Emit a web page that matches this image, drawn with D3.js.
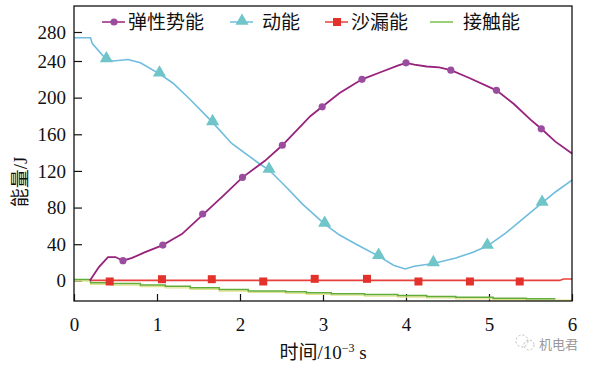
<!doctype html>
<html>
<meta charset="utf-8">
<style>
    body { margin: 0; background: #fff; }
    .serif { font-family: "Liberation Serif", "DejaVu Serif", serif; fill: #111; }
    .cn { font-family: "Noto Sans CJK SC", sans-serif; fill: #111; }
</style>
<head>
    <title>能量曲线</title>
    <script src="https://cdn.jsdelivr.net/npm/d3@7/dist/d3.min.js"></script>
</head>
<body>
<svg id="chart" width="594" height="366"></svg>
<script>
// time in 10^-3 s, energy in J
var elasticLine = [[0.19,0],[0.3,15],[0.41,26],[0.5,26],[0.59,22],[0.7,25],[0.85,31],[1.07,39],[1.2,46],[1.3,51],
    [1.55,72],[1.8,93],[2.03,113],[2.3,131],[2.51,148],[2.7,166],[2.85,180],[2.99,190],[3.2,205],[3.47,220],
    [3.7,228],[3.9,235],[4.0,238],[4.1,236],[4.25,234],[4.4,233],[4.54,230],[4.75,222],[5.09,208],[5.3,193],
    [5.5,176],[5.63,166],[5.8,152],[6.0,139]];
var elasticMarks = [[0.59,22],[1.07,39],[1.55,73],[2.03,113],[2.51,148],[2.99,190],[3.47,220],[4.0,238],[4.54,230],[5.09,208],[5.63,166]];

var kineticLine = [[0,272],[0.2,272],[0.22,264],[0.39,242],[0.47,240],[0.65,242],[0.8,238],[1.03,226],[1.19,216],
    [1.4,198],[1.67,173],[1.9,150],[2.2,130],[2.35,121],[2.55,103],[2.75,84],[3.02,62],[3.2,50],[3.4,40],[3.67,27],
    [3.85,17],[3.99,13],[4.1,16],[4.33,19],[4.6,25],[4.8,31],[4.98,38],[5.2,52],[5.4,67],[5.64,85],[5.8,97],[6.0,110]];
var kineticMarks = [[0.39,242],[1.03,226],[1.67,173],[2.35,121],[3.02,62],[3.67,27],[4.33,19],[4.98,38],[5.64,85]];

var hourglassLine = [[0.2,0.5],[5.85,0.5],[5.9,2],[6.0,2]];
var hourglassMarks = [[0.43,-0.7],[1.06,1.8],[1.66,1.8],[2.28,-0.7],[2.9,2.2],[3.53,2.2],[4.15,-0.7],[4.77,-0.7],[5.37,-0.7]];

var contactLine = [[0,1.5],[0.2,-2],[0.45,-3],[0.8,-4.5],[1.1,-6],[1.4,-7.5],[1.75,-9.5],[2.1,-11],[2.55,-12],
    [2.8,-13],[3.1,-14],[3.5,-15],[3.9,-16],[4.25,-17],[4.6,-18],[5.05,-19],[5.45,-19.5],[5.8,-19.5]];

var xTicks = [0, 1, 2, 3, 4, 5, 6];
var yTicks = [0, 40, 80, 120, 160, 200, 240, 280];
var seriesNames = ["弹性势能", "动能", "沙漏能", "接触能"];

var svg = d3.select("#chart");
var plotL = 74, plotR = 572, plotT = 6, plotB = 301;

var x = d3.scaleLinear().domain([0, 6]).range([plotL, plotR]);
// the printed axis is a bit compressed above 240
var y = d3.scaleLinear().domain([-22, 240, 280]).range([plotB, 61, 32]);

var line = d3.line().x(function (d) { return x(d[0]); }).y(function (d) { return y(d[1]); });
var stepLine = d3.line().curve(d3.curveStepAfter).x(function (d) { return x(d[0]); }).y(function (d) { return y(d[1]); });

// axes
var gx = svg.append("g").attr("transform", "translate(0," + plotB + ")")
    .call(d3.axisBottom(x).tickValues(xTicks).tickSize(-7).tickPadding(17).tickFormat(d3.format("d")));
var gy = svg.append("g").attr("transform", "translate(" + plotL + ",0)")
    .call(d3.axisLeft(y).tickValues(yTicks).tickSize(-8).tickPadding(8));
[gx, gy].forEach(function (g) {
    g.attr("font-family", null).attr("font-size", null);
    g.select(".domain").remove();
    g.selectAll(".tick line").attr("stroke", "#111").attr("stroke-width", 1.2);
    g.selectAll(".tick text").attr("class", "serif").style("font-size", "19px");
});

// contact energy (stepped)
svg.append("path").attr("fill", "none").attr("stroke", "#dfe48c").attr("stroke-width", 1.4)
    .attr("transform", "translate(0,1.5)")
    .attr("d", stepLine(contactLine.concat([[6.0,-19.5]])));
svg.append("path").attr("fill", "none").attr("stroke", "#62ad3a").attr("stroke-width", 1.5)
    .attr("d", stepLine(contactLine));

// hourglass energy
svg.append("path").attr("fill", "none").attr("stroke", "#e8413b").attr("stroke-width", 1.6)
    .attr("d", line(hourglassLine));
svg.selectAll(".hg").data(hourglassMarks).enter().append("rect")
    .attr("x", function (d) { return x(d[0]) - 4; }).attr("y", function (d) { return y(d[1]) - 4; })
    .attr("width", 8).attr("height", 8).attr("fill", "#e2322b");

// kinetic energy
svg.append("path").attr("fill", "none").attr("stroke", "#6fbcdf").attr("stroke-width", 1.6)
    .attr("d", line(kineticLine));
svg.selectAll(".ke").data(kineticMarks).enter().append("path")
    .attr("transform", function (d) { return "translate(" + x(d[0]) + "," + (y(d[1]) - 1) + ")"; })
    .attr("d", d3.symbol().type(d3.symbolTriangle).size(75)).attr("fill", "#6fc5c8");

// elastic potential energy
svg.append("path").attr("fill", "none").attr("stroke", "#97237d").attr("stroke-width", 1.8)
    .attr("d", line(elasticLine));
svg.selectAll(".ep").data(elasticMarks).enter().append("circle")
    .attr("cx", function (d) { return x(d[0]); }).attr("cy", function (d) { return y(d[1]); })
    .attr("r", 3.6).attr("fill", "#9a4c9f");

// frame
svg.append("rect").attr("x", plotL).attr("y", plotT).attr("width", plotR - plotL).attr("height", plotB - plotT)
    .attr("fill", "none").attr("stroke", "#111").attr("stroke-width", 1.3);

// legend
var legX = [102, 230, 325, 430];
var legColors = ["#97237d", "#6fbcdf", "#e8413b", "#7cc04a"];
var legY = 22;
seriesNames.forEach(function (name, i) {
    svg.append("line").attr("x1", legX[i]).attr("x2", legX[i] + 23).attr("y1", legY).attr("y2", legY)
        .attr("stroke", legColors[i]).attr("stroke-width", 1.5);
    var cx = legX[i] + 12;
    if (i === 0) svg.append("circle").attr("cx", cx).attr("cy", legY).attr("r", 3.6).attr("fill", "#9a4c9f");
    if (i === 1) svg.append("path").attr("transform", "translate(" + cx + "," + (legY - 1) + ")")
        .attr("d", d3.symbol().type(d3.symbolTriangle).size(75)).attr("fill", "#6fc5c8");
    if (i === 2) svg.append("rect").attr("x", cx - 4).attr("y", legY - 4).attr("width", 8).attr("height", 8).attr("fill", "#e2322b");
    svg.append("text").attr("class", "cn").attr("x", legX[i] + (i === 3 ? 33 : (i === 1 ? 32 : 26))).attr("y", legY + 7)
        .style("font-size", "19px").text(name);
});

// axis titles
var xt = svg.append("text").attr("class", "serif").attr("x", (plotL + plotR) / 2).attr("y", 359)
    .attr("text-anchor", "middle").style("font-size", "19px");
xt.append("tspan").attr("class", "cn").text("时间");
xt.append("tspan").text("/10");
xt.append("tspan").attr("dy", -7).style("font-size", "12px").text("−3");
xt.append("tspan").attr("dy", 7).text(" s");

var yt = svg.append("text").attr("class", "serif").attr("transform", "translate(27,182) rotate(-90)")
    .attr("text-anchor", "middle").style("font-size", "19px");
yt.append("tspan").attr("class", "cn").text("能量");
yt.append("tspan").text("/J");

// watermark
svg.append("circle").attr("cx", 522).attr("cy", 341).attr("r", 6).attr("fill", "none").attr("stroke", "#bbb").attr("stroke-dasharray", "2,2");
svg.append("circle").attr("cx", 529).attr("cy", 345).attr("r", 5).attr("fill", "none").attr("stroke", "#bbb").attr("stroke-dasharray", "2,2");
svg.append("text").attr("class", "cn").attr("x", 539).attr("y", 349).style("font-size", "13px").style("fill", "#999").text("机电君");
</script>
</body>
</html>
